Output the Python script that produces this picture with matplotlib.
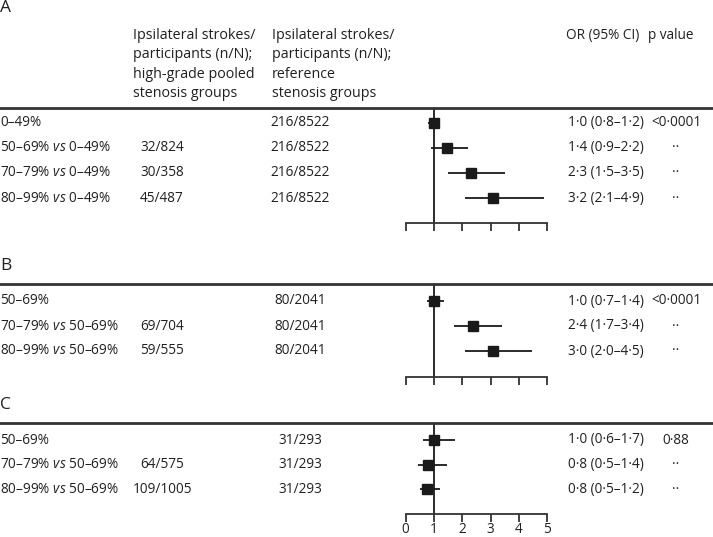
import matplotlib
matplotlib.use("Agg")
import matplotlib.pyplot as plt
import matplotlib.transforms as mtransforms
from matplotlib.lines import Line2D

plt.rcParams["font.family"] = ["Open Sans", "DejaVu Sans"]
plt.rcParams["mathtext.fontset"] = "custom"
plt.rcParams["mathtext.rm"] = "Open Sans"
plt.rcParams["mathtext.it"] = "Open Sans:italic"

# data, one block per panel
labels_a = ["0–49%", "50–69% $\\mathit{vs}$ 0–49%", "70–79% $\\mathit{vs}$ 0–49%", "80–99% $\\mathit{vs}$ 0–49%"]
high_a = ["", "32/824", "30/358", "45/487"]
ref_a = ["216/8522", "216/8522", "216/8522", "216/8522"]
or_a = [1.0, 1.45, 2.3, 3.1]
lo_a = [0.8, 0.9, 1.5, 2.1]
hi_a = [1.2, 2.2, 3.5, 4.9]
ortext_a = ["1·0 (0·8–1·2)", "1·4 (0·9–2·2)", "2·3 (1·5–3·5)", "3·2 (2·1–4·9)"]
p_a = ["<0·0001", "··", "··", "··"]

labels_b = ["50–69%", "70–79% $\\mathit{vs}$ 50–69%", "80–99% $\\mathit{vs}$ 50–69%"]
high_b = ["", "69/704", "59/555"]
ref_b = ["80/2041", "80/2041", "80/2041"]
or_b = [1.0, 2.37, 3.1]
lo_b = [0.75, 1.7, 2.1]
hi_b = [1.35, 3.4, 4.45]
ortext_b = ["1·0 (0·7–1·4)", "2·4 (1·7–3·4)", "3·0 (2·0–4·5)"]
p_b = ["<0·0001", "··", "··"]

labels_c = ["50–69%", "70–79% $\\mathit{vs}$ 50–69%", "80–99% $\\mathit{vs}$ 50–69%"]
high_c = ["", "64/575", "109/1005"]
ref_c = ["31/293", "31/293", "31/293"]
or_c = [1.0, 0.8, 0.75]
lo_c = [0.6, 0.45, 0.5]
hi_c = [1.75, 1.45, 1.2]
ortext_c = ["1·0 (0·6–1·7)", "0·8 (0·5–1·4)", "0·8 (0·5–1·2)"]
p_c = ["0·88", "··", "··"]

header_high = ["Ipsilateral strokes/", "participants (n/N);", "high-grade pooled", "stenosis groups"]
header_ref = ["Ipsilateral strokes/", "participants (n/N);", "reference", "stenosis groups"]
xticks = [0, 1, 2, 3, 4, 5]

W, H = 713, 537
TXT = "#231f20"
FS = 9.8
FS_HEAD = 10.3

fig = plt.figure(figsize=(W / 100, H / 100), dpi=100)


def fx(px):
    return px / W


def fy(py):
    return 1 - py / H


def panel(letter, letter_y, top, row0, axis_y, step, labels, high, ref, ors, lo, hi, ortext, pvals, show_ticks):
    ax = fig.add_axes([fx(405.7), fy(axis_y), fx(547.3) - fx(405.7), (axis_y - top) / H])
    n = len(labels)
    rows = list(range(n))
    ax.set_xlim(0, 5)
    ax.set_ylim((axis_y - row0) / step, -(row0 - top) / step)

    ax.axvline(1, color="#1a1a1a", lw=1.3, zorder=1)
    xerr = [[o - l for o, l in zip(ors, lo)], [h - o for o, h in zip(ors, hi)]]
    ax.errorbar(ors, rows, xerr=xerr, fmt="s", color="#1a1a1a", ms=7.3,
                elinewidth=1.3, capsize=0, zorder=3)

    for s in ["top", "right", "left"]:
        ax.spines[s].set_visible(False)
    ax.spines["bottom"].set_linewidth(1.3)
    ax.spines["bottom"].set_color("#333333")
    ax.set_yticks([])
    ax.set_xticks(xticks)
    ax.tick_params(axis="x", direction="out", length=5.5, width=1.3, color="#333333",
                   labelsize=FS, labelcolor=TXT, pad=0, labelbottom=show_ticks)

    tr = mtransforms.blended_transform_factory(fig.transFigure, ax.transData)
    ytop = ax.get_ylim()[1]
    fig.add_artist(Line2D([0, 1], [ytop, ytop], transform=tr, color="#333333", lw=2))

    for r in rows:
        fig.text(fx(0), r, labels[r], transform=tr, va="center", ha="left", fontsize=FS, color=TXT)
        fig.text(fx(162), r, high[r], transform=tr, va="center", ha="center", fontsize=FS, color=TXT)
        fig.text(fx(300), r, ref[r], transform=tr, va="center", ha="center", fontsize=FS, color=TXT)
        fig.text(fx(568), r, ortext[r], transform=tr, va="center", ha="left", fontsize=FS, color=TXT)
        fig.text(fx(676), r, pvals[r], transform=tr, va="center", ha="center", fontsize=FS, color=TXT)

    fig.text(fx(0), fy(letter_y), letter, va="center", ha="left", fontsize=12.5, color=TXT)
    return ax


panel("A", 8, 108, 122.5, 223, 25.2, labels_a, high_a, ref_a, or_a, lo_a, hi_a, ortext_a, p_a, False)
panel("B", 266, 284, 301, 377, 25.0, labels_b, high_b, ref_b, or_b, lo_b, hi_b, ortext_b, p_b, False)
panel("C", 405, 423, 440, 514, 24.6, labels_c, high_c, ref_c, or_c, lo_c, hi_c, ortext_c, p_c, True)

# column headers of panel A
for i, (a, b) in enumerate(zip(header_high, header_ref)):
    yb = fy(39 + i * 19.3)
    fig.text(fx(133), yb, a, va="baseline", ha="left", fontsize=FS_HEAD, color=TXT)
    fig.text(fx(272), yb, b, va="baseline", ha="left", fontsize=FS_HEAD, color=TXT)
fig.text(fx(566), fy(39), "OR (95% CI)", va="baseline", ha="left", fontsize=FS, color=TXT)
fig.text(fx(648), fy(39), "p value", va="baseline", ha="left", fontsize=FS, color=TXT)

fig.savefig("out.png", dpi=100)
